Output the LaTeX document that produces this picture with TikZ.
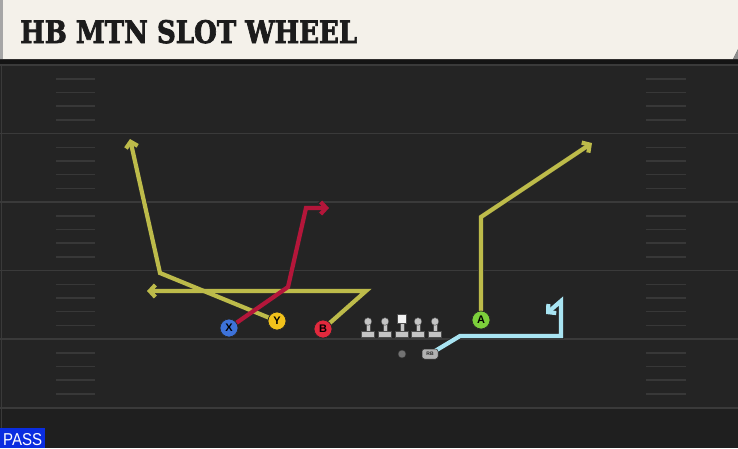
\documentclass[tikz,border=0pt]{standalone}
\usepackage{fontspec}
\setmainfont{DejaVu Serif}
\newfontfamily\titlefont{DejaVu Serif}[BoldFeatures={FakeBold=2.5}]
\newfontfamily\labelfont{Liberation Sans}
\usetikzlibrary{arrows.meta}
\pgfdeclarelayer{field}
\pgfdeclarelayer{routes}
\pgfsetlayers{field,routes,main}
\definecolor{fieldbg}{HTML}{242424}
\definecolor{fieldlow}{HTML}{1F1F1F}
\definecolor{yardline}{HTML}{3A3A3A}
\definecolor{hashc}{HTML}{383838}
\definecolor{headbg}{HTML}{F4F1EA}
\definecolor{titlec}{HTML}{1C1C1C}
\definecolor{ryellow}{HTML}{BDBB4A}
\definecolor{rred}{HTML}{B4163A}
\definecolor{rblue}{HTML}{A8E4F2}
\definecolor{xblue}{HTML}{3D72D9}
\definecolor{yyellow}{HTML}{F2C21B}
\definecolor{bred}{HTML}{E2293D}
\definecolor{agreen}{HTML}{7CCF3B}
\definecolor{lmgray}{HTML}{C4C4C4}
\definecolor{passblue}{HTML}{0A2DE0}
\tikzset{
  yard/.style={draw=yardline, line width=1.6pt},
  hashmark/.style={draw=hashc, line width=1.4pt},
  player/.style={circle, draw=black!85, line width=0.7pt, minimum size=18pt, inner sep=0pt,
    font=\labelfont\bfseries\fontsize{11}{11}\selectfont, text=black},
  routebg/.style={draw=black!85, line width=5.8pt, line join=miter, line cap=butt,
    -{Straight Barb[length=6pt,width=13pt]}},
  routefg/.style={line width=4.2pt, line join=miter, line cap=butt,
    -{Straight Barb[length=5.5pt,width=12pt]}},
  lineman/.pic={
    \filldraw[fill=lmgray, draw=black!70, line width=0.4pt] (-6.5,0) rectangle (6.5,-6);
    \filldraw[fill=lmgray, draw=black!70, line width=0.4pt] (-2,-6) rectangle (2,-13);
    \filldraw[fill=lmgray, draw=black!70, line width=0.4pt] (0,-15.5) circle (3.8pt);
  },
  center/.pic={
    \filldraw[fill=lmgray, draw=black!70, line width=0.4pt] (-6.5,0) rectangle (6.5,-6);
    \filldraw[fill=lmgray, draw=black!70, line width=0.4pt] (-2,-6) rectangle (2,-14);
    \filldraw[fill=white!95!black, draw=black!70, line width=0.4pt] (-4.5,-14) rectangle (4.5,-23);
  }
}
\begin{document}
\begin{tikzpicture}[x=1pt,y=-1pt]
\useasboundingbox (0,0) rectangle (738,448);
\begin{pgfonlayer}{field}
  \fill[fieldbg] (0,0) rectangle (738,448);
  \fill[fieldlow] (0,408) rectangle (738,448);
  \draw[yardline, line width=1pt] (1,60) -- (1,448);
  \foreach \L in {65,133.5,202,270.5,339,408} {
    \draw[yard] (0,\L) -- (738,\L);
  }
  \foreach \L in {65,133.5,202,270.5,339} {
    \foreach \o in {14,27.5,41,55} {
      \draw[hashmark] (56,\L+\o) -- (95,\L+\o);
      \draw[hashmark] (646,\L+\o) -- (686,\L+\o);
    }
  }
  % header
  \fill[black!92] (0,58) rectangle (738,64);
  \fill[headbg] (0,0) -- (738,0) -- (738,49) -- (733,59) -- (0,59) -- cycle;
  \fill[black!35] (0,0) rectangle (3,59);
  \fill[black!45] (738,49) -- (733,59) -- (738,59) -- cycle;
\end{pgfonlayer}
\node[anchor=base west, inner sep=0pt, text=titlec] (title) at (20,43)
  {\resizebox{337pt}{23pt}{\titlefont\bfseries HB MTN SLOT WHEEL}};
% players
\node[player, fill=xblue] (X) at (229,328) {X};
\node[player, fill=yyellow] (Y) at (277,321) {Y};
\node[player, fill=bred] (B) at (323,329) {B};
\node[player, fill=agreen] (A) at (481,320) {A};
\pic at (368,337) {lineman};
\pic at (385,337) {lineman};
\pic at (402,337) {center};
\pic at (418,337) {lineman};
\pic at (435,337) {lineman};
\node[circle, fill=black!55, draw=black!80, line width=0.4pt, minimum size=8pt, inner sep=0pt] (qb) at (402,354) {};
\node[rounded corners=2.5pt, fill=black!30, draw=black!80, line width=0.5pt, minimum width=16pt,
  minimum height=10pt, inner sep=0pt, font=\labelfont\bfseries\fontsize{5}{5}\selectfont, text=black!85] (rb) at (430,354) {RB};
% waypoints
\coordinate (y1) at (160,273);
\coordinate (y2) at (130,139);
\coordinate (b1) at (366,291);
\coordinate (b2) at (147,291);
\coordinate (x1) at (288,287);
\coordinate (x2) at (306,208);
\coordinate (x3) at (329,208);
\coordinate (a1) at (481,217);
\coordinate (a2) at (592,143);
\coordinate (r1) at (460,336);
\coordinate (r2) at (561,336);
\coordinate (r3) at (561,301);
\coordinate (r4) at (546,314);
\begin{pgfonlayer}{routes}
  \draw[routebg] (Y.center) -- (y1) -- (y2);
  \draw[routebg] (B.center) -- (b1) -- (b2);
  \draw[routebg] (X.center) -- (x1) -- (x2) -- (x3);
  \draw[routebg] (A.center) -- (a1) -- (a2);
  \draw[routebg] (rb.center) -- (r1) -- (r2) -- (r3) -- (r4);
  \draw[routefg, ryellow] (Y.center) -- (y1) -- (y2);
  \draw[routefg, ryellow] (B.center) -- (b1) -- (b2);
  \draw[routefg, rred] (X.center) -- (x1) -- (x2) -- (x3);
  \draw[routefg, ryellow] (A.center) -- (a1) -- (a2);
  \draw[routefg, rblue] (rb.center) -- (r1) -- (r2) -- (r3) -- (r4);
\end{pgfonlayer}
\node[fill=passblue, minimum width=45pt, minimum height=20pt, inner sep=0pt, anchor=south west] (passbox) at (0,448) {};
\node[anchor=base west, inner sep=0pt, text=white] (pass) at (3,445) {\resizebox{39pt}{12pt}{\labelfont PASS}};
\end{tikzpicture}
\end{document}
